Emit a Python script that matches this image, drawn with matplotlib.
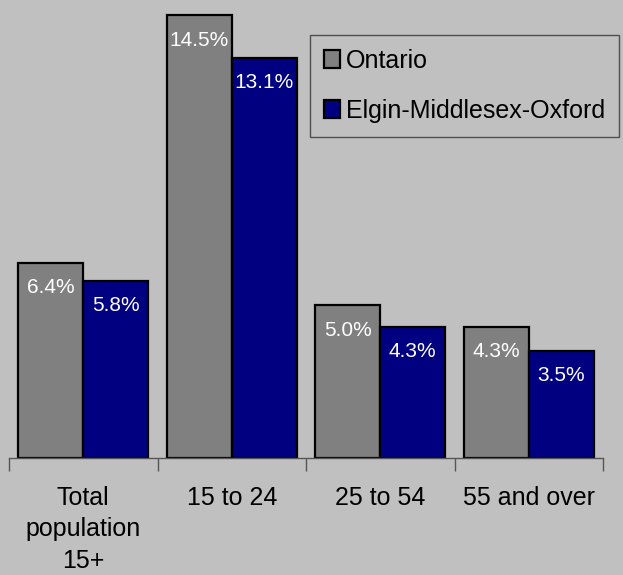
import matplotlib.pyplot as plt
import numpy as np

categories = ["Total\npopulation\n15+", "15 to 24", "25 to 54", "55 and over"]
ontario = [6.4, 14.5, 5.0, 4.3]
emo = [5.8, 13.1, 4.3, 3.5]
series_names = ["Ontario", "Elgin-Middlesex-Oxford"]

BG = "#C0C0C0"
color_ont = "#808080"
color_emo = "#000080"

plt.rcParams["font.family"] = ["Liberation Sans", "DejaVu Sans"]

fig = plt.figure(figsize=(6.23, 5.75), dpi=100, facecolor=BG)
ax = fig.add_axes([9 / 623, 117 / 575, 594 / 623, 458 / 575])
ax.set_facecolor(BG)

x = np.arange(len(categories))
w = 0.4375
b1 = ax.bar(x - w, ontario, w, align="edge", color=color_ont, edgecolor="black",
            linewidth=1.6, label=series_names[0])
b2 = ax.bar(x, emo, w, align="edge", color=color_emo, edgecolor="black",
            linewidth=1.6, label=series_names[1])

for bars, vals in ((b1, ontario), (b2, emo)):
    for bar, v in zip(bars, vals):
        ax.annotate(f"{v:.1f}%", (bar.get_x() + bar.get_width() / 2, v),
                    xytext=(0, -11), textcoords="offset points",
                    ha="center", va="top", color="white", fontsize=15)

ax.set_xlim(-0.5, len(categories) - 0.5)
ax.set_ylim(0, 15)
ax.set_yticks([])
for s in ("top", "right", "left"):
    ax.spines[s].set_visible(False)
ax.spines["bottom"].set_color("#555555")
ax.spines["bottom"].set_linewidth(1.0)

ax.set_xticks(np.arange(len(categories) + 1) - 0.5, minor=True)
ax.tick_params(axis="x", which="minor", length=9, color="#555555", width=1.0)
ax.set_xticks(x)
ax.set_xticklabels(categories, fontsize=18, linespacing=1.4)
ax.tick_params(axis="x", which="major", length=0, pad=20)

leg = fig.legend(loc="upper left", bbox_to_anchor=(310 / 623, 1 - 35 / 575),
                 frameon=True, fancybox=False, facecolor=BG, edgecolor="#333333",
                 fontsize=18, handlelength=0.65, handleheight=0.75,
                 handletextpad=0.25, labelspacing=1.05, borderpad=0.55,
                 borderaxespad=0)
leg.get_frame().set_linewidth(1.0)

fig.savefig("out.png", dpi=100, facecolor=BG)
